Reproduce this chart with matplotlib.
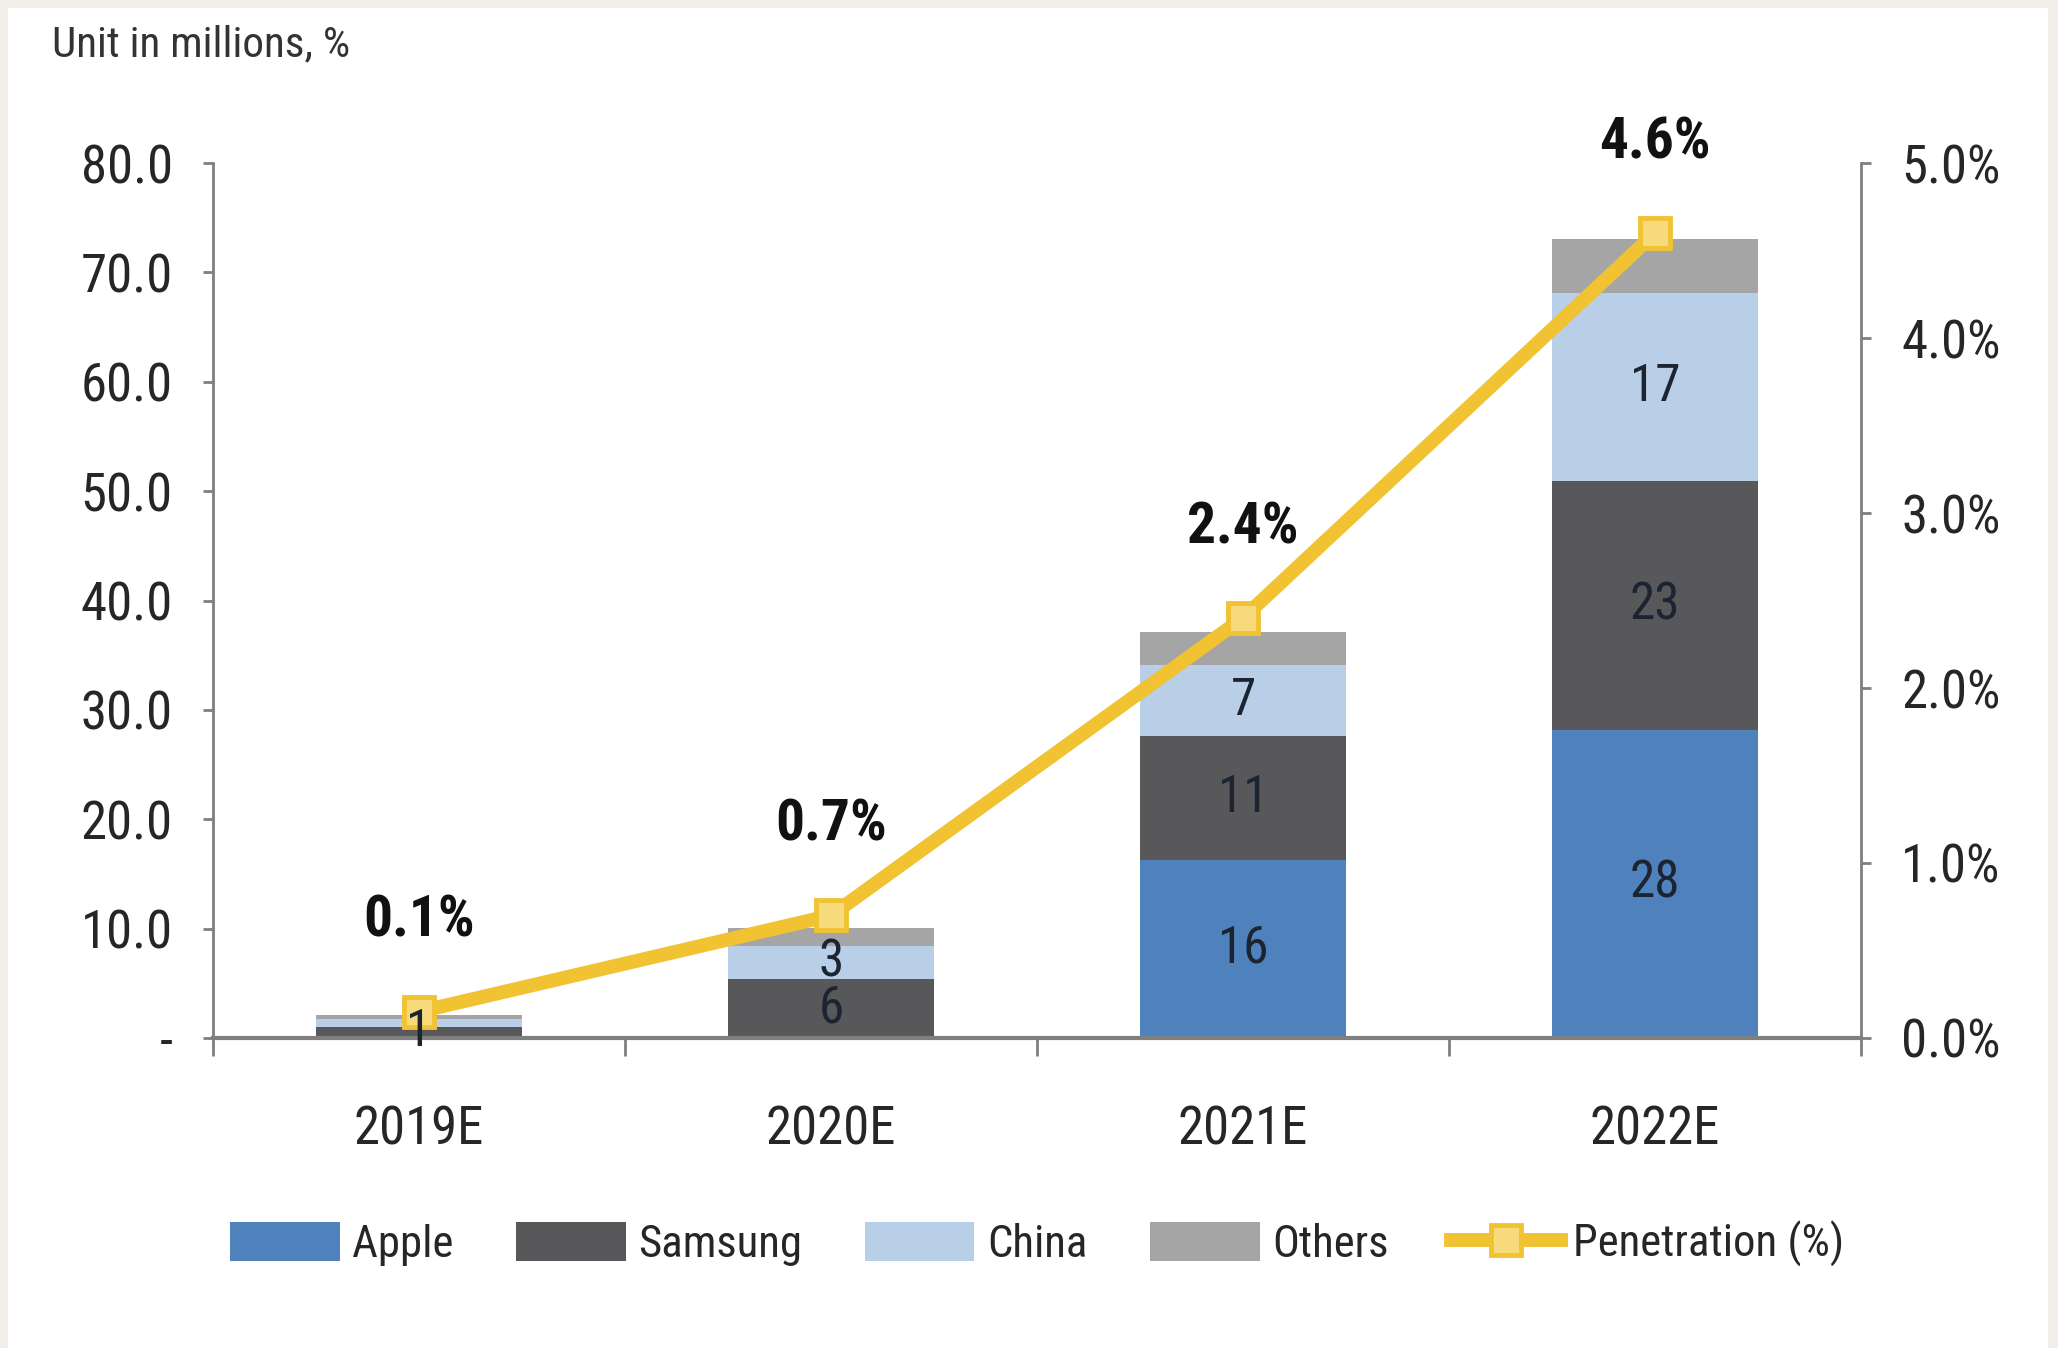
import matplotlib
matplotlib.use("Agg")
import matplotlib.pyplot as plt
from matplotlib import font_manager
from matplotlib import patheffects
from matplotlib.patches import Rectangle
import numpy as np

# data
years = ["2019E", "2020E", "2021E", "2022E"]
apple = [0.0, 0.0, 16.3, 28.2]
samsung = [1.0, 5.4, 11.3, 22.7]
china = [0.7, 3.0, 6.5, 17.2]
others = [0.4, 1.7, 3.0, 5.0]
penetration = [0.15, 0.7, 2.4, 4.6]
pen_labels = ["0.1%", "0.7%", "2.4%", "4.6%"]

apple_lbl = ["", "", "16", "28"]
samsung_lbl = ["1", "6", "11", "23"]
china_lbl = ["", "3", "7", "17"]

left_ticks = [0, 10, 20, 30, 40, 50, 60, 70, 80]
left_ticklabels = ["-", "10.0", "20.0", "30.0", "40.0", "50.0", "60.0", "70.0", "80.0"]
right_ticks = [0, 1, 2, 3, 4, 5]
right_ticklabels = ["0.0%", "1.0%", "2.0%", "3.0%", "4.0%", "5.0%"]


def wnum(w):
    if isinstance(w, str):
        return font_manager.weight_dict.get(w, 400)
    return w


# the source uses a narrow Arial-like face; take a condensed font if one exists
narrow_fonts = {}
for f in font_manager.fontManager.ttflist:
    if "Narrow" in f.name or "Condensed" in f.name:
        narrow_fonts.setdefault(f.name, set()).add(wnum(f.weight))
prefer = ["Liberation Sans Narrow", "Arial Narrow", "Roboto Condensed",
          "Open Sans Condensed", "Noto Sans Condensed", "DejaVu Sans Condensed"]
order = [n for n in prefer if n in narrow_fonts] + sorted(n for n in narrow_fonts if n not in prefer)
narrow = None
has_bold = False
for n in order:
    ws = narrow_fonts[n]
    if any(w >= 600 for w in ws) and any(w <= 500 for w in ws):
        narrow, has_bold = n, True
        break
if narrow is None and order:
    narrow = order[0]
    has_bold = any(w >= 600 for w in narrow_fonts[narrow])

fams = ['Liberation Sans', 'DejaVu Sans']
if narrow:
    fams = [narrow] + fams
plt.rcParams['font.family'] = fams
scale = 1.15 if narrow else 1.0

c_apple = "#4f81bd"
c_samsung = "#58585b"
c_china = "#b9cfe7"
c_others = "#a5a5a5"
c_line = "#f1c232"
c_axis = "#7f7f7f"
txt = "#262626"

fig = plt.figure(figsize=(20.58, 13.48), dpi=100, facecolor="#f1eee7")
fig.patches.append(Rectangle((8 / 2058, 0), 2040 / 2058, 1340 / 1348,
                             transform=fig.transFigure, facecolor="white",
                             edgecolor="none", zorder=-10))

ax = fig.add_axes([0.1035, 0.230, 0.8008, 0.649])
ax.set_facecolor("none")
x = np.arange(len(years))
w = 0.5

b1 = np.zeros(len(years))
b2 = b1 + np.array(apple)
b3 = b2 + np.array(samsung)
b4 = b3 + np.array(china)
ax.bar(x, apple, w, bottom=b1, color=c_apple, label="Apple", zorder=2)
ax.bar(x, samsung, w, bottom=b2, color=c_samsung, label="Samsung", zorder=2)
ax.bar(x, china, w, bottom=b3, color=c_china, label="China", zorder=2)
ax.bar(x, others, w, bottom=b4, color=c_others, label="Others", zorder=2)

ax.set_xlim(-0.5, 3.5)
ax.set_ylim(0, 80)
ax.set_yticks(left_ticks)
ax.set_yticklabels(left_ticklabels)
ax.set_xticks(x)
ax.set_xticklabels(years)
ax.set_xticks(np.arange(-0.5, 4.0, 1.0), minor=True)
ax.tick_params(axis="x", which="major", length=0, pad=48, labelsize=33 * scale, labelcolor=txt)
ax.tick_params(axis="x", which="minor", length=13, width=2, color=c_axis, direction="out")
ax.tick_params(axis="y", length=7, width=2, color=c_axis, pad=22, labelsize=33 * scale, labelcolor=txt)
for s in ["top", "right"]:
    ax.spines[s].set_visible(False)
ax.spines["left"].set_color(c_axis)
ax.spines["left"].set_linewidth(2)
ax.spines["bottom"].set_color(c_axis)
ax.spines["bottom"].set_linewidth(3)
ax.spines["bottom"].set_zorder(3)

ax2 = ax.twinx()
ax2.set_ylim(0, 5)
ax2.set_yticks(right_ticks)
ax2.set_yticklabels(right_ticklabels)
ax2.tick_params(axis="y", length=7, width=2, color=c_axis, pad=22, labelsize=33 * scale, labelcolor=txt)
for s in ["top", "left", "bottom"]:
    ax2.spines[s].set_visible(False)
ax2.spines["right"].set_color(c_axis)
ax2.spines["right"].set_linewidth(2)

ln, = ax2.plot(x, penetration, color=c_line, lw=10, marker="s", markersize=22,
               markerfacecolor="#f6da7c", markeredgecolor=c_line, markeredgewidth=3.5,
               label="Penetration (%)", zorder=3)

# fake the bold weight with a thin stroke when the narrow face has no bold
bold_fx = [] if has_bold else [patheffects.withStroke(linewidth=2.2, foreground="#111111")]
for i in range(len(years)):
    ax2.annotate(pen_labels[i], (x[i], penetration[i]), xytext=(0, 65),
                 textcoords="offset points", ha="center", va="center",
                 fontsize=36 * scale, fontweight="bold", color="#111111",
                 path_effects=bold_fx)
    for lbl, bot, h in [(apple_lbl[i], b1[i], apple[i]),
                        (samsung_lbl[i], b2[i], samsung[i]),
                        (china_lbl[i], b3[i], china[i])]:
        if lbl:
            ax2.text(x[i], bot + h / 2, lbl, transform=ax.transData, ha="center",
                     va="center", fontsize=32 * scale, color="#1b2430", zorder=5)

fig.text(52 / 2058, 1 - 45 / 1348, "Unit in millions, %", fontsize=27 * scale,
         color="#333333", ha="left", va="center")

handles, labels = ax.get_legend_handles_labels()
handles.append(ln)
labels.append("Penetration (%)")
fig.legend(handles, labels, loc="center", bbox_to_anchor=(0.504, 0.077), ncol=5,
           frameon=False, fontsize=28 * scale, handlelength=2.45, handleheight=0.95,
           handletextpad=0.28, columnspacing=1.4, labelcolor=txt)

fig.savefig("out.png", dpi=100, facecolor=fig.get_facecolor())
